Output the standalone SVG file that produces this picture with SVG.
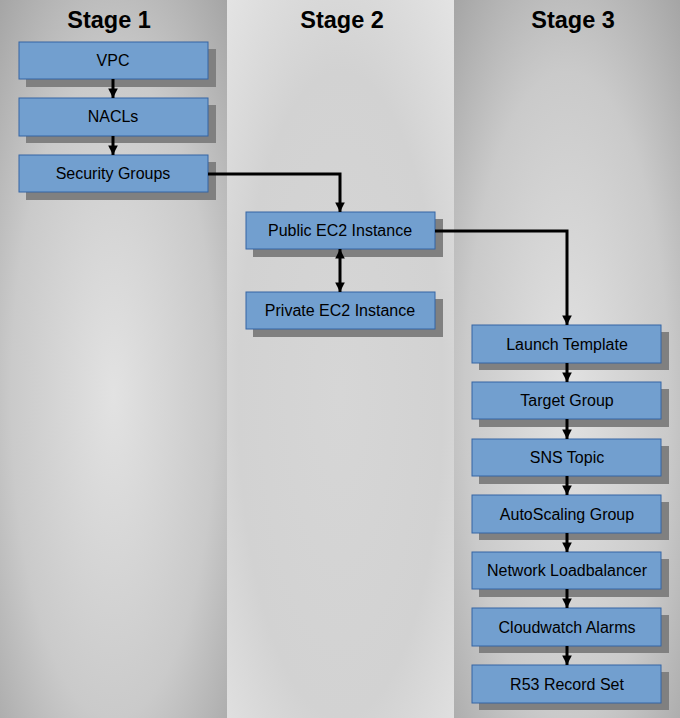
<svg xmlns="http://www.w3.org/2000/svg" width="680" height="718" viewBox="0 0 680 718">
<defs>
<radialGradient id="g1" cx="0.5" cy="0.55" r="0.75">
<stop offset="0" stop-color="#e2e2e2"/>
<stop offset="0.6" stop-color="#cacaca"/>
<stop offset="1" stop-color="#a4a4a4"/>
</radialGradient>
<radialGradient id="g2" cx="0.5" cy="0.55" r="0.75">
<stop offset="0" stop-color="#d6d6d6"/>
<stop offset="0.6" stop-color="#d2d2d2"/>
<stop offset="1" stop-color="#e4e4e4"/>
</radialGradient>
<marker id="ah" viewBox="0 0 10 10" refX="10" refY="5" markerWidth="3.2" markerHeight="3.2" orient="auto-start-reverse" markerUnits="strokeWidth">
<path d="M0,0 L10,5 L0,10 z" fill="#000"/>
</marker>
<style>
.box{fill:#729fcf;stroke:#3465a4;stroke-width:1}
.sh{fill:#808080}
.lbl{font-family:"Liberation Sans",Arial,sans-serif;font-size:16px;fill:#000;text-anchor:middle}
.ttl{font-family:"Liberation Sans",Arial,sans-serif;font-size:23.5px;font-weight:bold;fill:#000;text-anchor:middle}
.con{fill:none;stroke:#000;stroke-width:3;marker-end:url(#ah)}
</style>
</defs>
<g id="columns">
<rect x="0" y="0" width="227" height="718" fill="url(#g1)"/>
<rect x="227" y="0" width="227" height="718" fill="url(#g2)"/>
<rect x="454" y="0" width="226" height="718" fill="url(#g1)"/>
<text class="ttl" x="109" y="28">Stage 1</text>
<text class="ttl" x="342" y="28">Stage 2</text>
<text class="ttl" x="573" y="28">Stage 3</text>
</g>
<g id="vpc"><rect class="sh" x="26" y="49" width="190" height="38"/><rect class="box" x="19" y="42" width="189" height="37"/><text class="lbl" x="113" y="66">VPC</text></g>
<g id="nacls"><rect class="sh" x="26" y="105" width="190" height="38"/><rect class="box" x="19" y="98" width="189" height="38"/><text class="lbl" x="113" y="122">NACLs</text></g>
<g id="sg"><rect class="sh" x="26" y="162" width="190" height="38"/><rect class="box" x="19" y="155" width="189" height="37"/><text class="lbl" x="113" y="179">Security Groups</text></g>
<g id="public"><rect class="sh" x="253" y="219" width="190" height="38"/><rect class="box" x="246" y="212" width="189" height="37"/><text class="lbl" x="340" y="236">Public EC2 Instance</text></g>
<g id="private"><rect class="sh" x="253" y="299" width="190" height="38"/><rect class="box" x="246" y="292" width="189" height="37"/><text class="lbl" x="340" y="316">Private EC2 Instance</text></g>
<g id="launch"><rect class="sh" x="479" y="332" width="190" height="38"/><rect class="box" x="472" y="325" width="189" height="38"/><text class="lbl" x="567" y="350">Launch Template</text></g>
<g id="tg"><rect class="sh" x="479" y="389" width="190" height="38"/><rect class="box" x="472" y="382" width="189" height="37"/><text class="lbl" x="567" y="406">Target Group</text></g>
<g id="sns"><rect class="sh" x="479" y="446" width="190" height="38"/><rect class="box" x="472" y="439" width="189" height="37"/><text class="lbl" x="567" y="463">SNS Topic</text></g>
<g id="asg"><rect class="sh" x="479" y="502" width="190" height="38"/><rect class="box" x="472" y="495" width="189" height="38"/><text class="lbl" x="567" y="520">AutoScaling Group</text></g>
<g id="nlb"><rect class="sh" x="479" y="559" width="190" height="38"/><rect class="box" x="472" y="552" width="189" height="37"/><text class="lbl" x="567" y="576">Network Loadbalancer</text></g>
<g id="cw"><rect class="sh" x="479" y="615" width="190" height="38"/><rect class="box" x="472" y="608" width="189" height="38"/><text class="lbl" x="567" y="633">Cloudwatch Alarms</text></g>
<g id="r53"><rect class="sh" x="479" y="672" width="190" height="38"/><rect class="box" x="472" y="665" width="189" height="38"/><text class="lbl" x="567" y="690">R53 Record Set</text></g>
<g id="connectors">
<path class="con" d="M113,79 L113,98"/>
<path class="con" d="M113,136 L113,155"/>
<path class="con" d="M208,174 L340,174 L340,212"/>
<path class="con" d="M340,249 L340,292" marker-start="url(#ah)"/>
<path class="con" d="M435,231 L567,231 L567,325"/>
<path class="con" d="M567,363 L567,382"/>
<path class="con" d="M567,419 L567,439"/>
<path class="con" d="M567,476 L567,495"/>
<path class="con" d="M567,533 L567,552"/>
<path class="con" d="M567,589 L567,608"/>
<path class="con" d="M567,646 L567,665"/>
</g>
</svg>
